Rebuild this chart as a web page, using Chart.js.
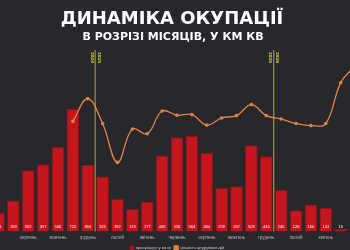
<!DOCTYPE html>
<html>
<head>
<meta charset="utf-8">
<script src="https://cdn.jsdelivr.net/npm/chart.js@4"></script>
<style>
  html, body { margin: 0; padding: 0; width: 350px; height: 250px; overflow: hidden; background: #26282c; }
  #wrap { position: absolute; left: -13px; top: 0; width: 380px; height: 260px; }
  .head { position: absolute; left: 0; width: 350px; text-align: center; color: #fff; font-family: "DejaVu Sans", sans-serif; font-weight: bold; line-height: 1; }
  #t1 { top: 9px; font-size: 18px; left: -3px; }
  #t2 { top: 31px; font-size: 11px; left: -2px; }
</style>
</head>
<body>
<div id="wrap"><canvas id="occupationChart"></canvas></div>
<div class="head" id="t1">ДИНАМІКА ОКУПАЦІЇ</div>
<div class="head" id="t2">В РОЗРІЗІ МІСЯЦІВ, У КМ КВ</div>
<script>
// Jun 2024 .. Jun 2026
const months = ['червень', 'липень', 'серпень', 'вересень', 'жовтень', 'листопад', 'грудень',
  'січень', 'лютий', 'березень', 'квітень', 'травень', 'червень', 'липень', 'серпень', 'вересень',
  'жовтень', 'листопад', 'грудень', 'січень', 'лютий', 'березень', 'квітень', 'травень', 'червень'];

// occupied area per month, km²
const areaKm = [111, 183, 362, 397, 500, 725, 394, 325, 192, 133, 177, 449, 556, 564, 464, 259,
  267, 509, 445, 245, 126, 160, 141, 16, null];

// assault actions (own hidden axis)
const assaults = [null, null, null, null, null, 650, 784, 637, 408, 605, 577, 711, 686, 690, 628,
  670, 684, 749, 684, 664, 637, 625, 637, 877, 980];

// year separators: index of the last month of the year
const yearBreaks = [6, 18];
const yearLeft = ['2024', '2025'];
const yearRight = ['2025', '2026'];

const yearLines = {
  id: 'yearLines',
  afterDatasetsDraw(chart) {
    const ctx = chart.ctx;
    const area = chart.chartArea;
    const x = chart.scales.x;
    ctx.save();
    yearBreaks.forEach(function(idx, k) {
      const px = (x.getPixelForValue(idx) + x.getPixelForValue(idx + 1)) / 2;
      ctx.strokeStyle = 'rgba(190, 190, 60, 0.75)';
      ctx.lineWidth = 1.2;
      ctx.beginPath();
      ctx.moveTo(px, area.top - 12);
      ctx.lineTo(px, area.bottom);
      ctx.stroke();

      ctx.fillStyle = '#d8d43c';
      ctx.font = 'bold 4px "DejaVu Sans"';
      ctx.textBaseline = 'middle';
      ctx.textAlign = 'left';
      [[-3.2, yearLeft[k]], [3.4, yearRight[k]]].forEach(function(t) {
        ctx.save();
        ctx.translate(px + t[0], area.top - 10);
        ctx.rotate(Math.PI / 2);
        ctx.fillText(t[1], 0, 0);
        ctx.restore();
      });
    });
    ctx.restore();
  }
};

const barValues = {
  id: 'barValues',
  afterDatasetsDraw(chart) {
    const ctx = chart.ctx;
    const meta = chart.getDatasetMeta(1);
    ctx.save();
    ctx.fillStyle = '#ffffff';
    ctx.font = '4px "Liberation Sans"';
    ctx.textAlign = 'center';
    ctx.textBaseline = 'middle';
    meta.data.forEach(function(bar, i) {
      if (areaKm[i] == null) return;
      ctx.fillText(areaKm[i], bar.x, chart.chartArea.bottom - 4.5);
    });
    ctx.restore();
  }
};

new Chart(document.getElementById('occupationChart'), {
  data: {
    labels: months,
    datasets: [{
      type: 'line',
      label: 'кількість штурмових дій',
      data: assaults,
      yAxisID: 'y1',
      borderColor: '#e8803f',
      backgroundColor: '#e8803f',
      borderWidth: 1.3,
      pointRadius: 1.8,
      pointBackgroundColor: '#e8803f',
      pointBorderWidth: 0,
      tension: 0.4,
      order: 0
    }, {
      type: 'bar',
      label: 'просування у км кв',
      data: areaKm,
      yAxisID: 'y',
      backgroundColor: '#c5161d',
      borderColor: '#8e1014',
      borderWidth: 1,
      categoryPercentage: 1,
      barPercentage: 0.86,
      order: 1
    }]
  },
  options: {
    responsive: true,
    maintainAspectRatio: false,
    animation: false,
    layout: { padding: { top: 62, left: 0, right: 0, bottom: 0 } },
    scales: {
      x: {
        grid: { display: false, drawTicks: false },
        border: { display: false },
        ticks: {
          color: '#b5b5b5',
          font: { size: 4.5, family: 'Liberation Sans' },
          autoSkip: false,
          maxRotation: 0,
          padding: 3,
          callback: function(v, i) { return (i % 2 === 0 && i > 0 && i < 24) ? months[i] : ''; }
        }
      },
      y: { display: false, min: 0, max: 1000 },
      y1: { display: false, min: 0, max: 1000 }
    },
    plugins: {
      legend: {
        position: 'bottom',
        reverse: true,
        labels: {
          color: '#c8c8c8',
          font: { size: 4, family: 'Liberation Sans' },
          boxWidth: 4,
          boxHeight: 4,
          padding: 3
        }
      },
      tooltip: { enabled: false }
    }
  },
  plugins: [yearLines, barValues]
});
</script>
</body>
</html>
